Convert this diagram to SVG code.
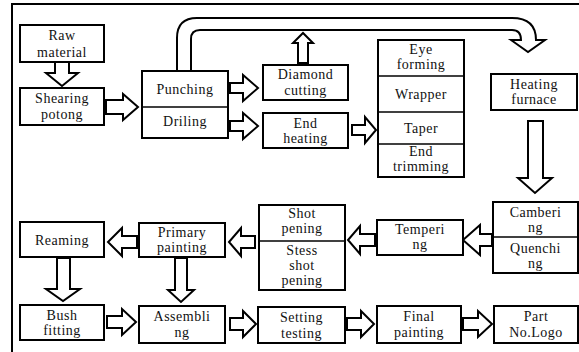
<svg xmlns="http://www.w3.org/2000/svg" width="579" height="352" viewBox="0 0 579 352" font-family="Liberation Serif, DejaVu Serif, serif">
<style>
.box{fill:#fff;stroke:#000;stroke-width:2}
.div{stroke:#000;stroke-width:1.6}
.arr{fill:#fff;stroke:#000;stroke-width:2;stroke-linejoin:miter}
text{font-size:14px;letter-spacing:0.5px;fill:#111;text-anchor:middle}
</style>
<rect width="579" height="352" fill="#fff"/>
<path d="M12,352 L12,4 L579,4" fill="none" stroke="#000" stroke-width="2"/>

<g id="connectors">
  <path class="arr" d="M177,71 L177,38 Q177,18 197,18 L512,18 Q536,18 536,40 L545,40 L528,52 L511,40 L521,40 Q521,30 512,30 L200,30 Q191,30 191,39 L191,71"/>
  <path class="arr" d="M55,62 L69,62 L69,73 L78,73 L62,86 L46,73 L55,73 Z"/>
  <path class="arr" d="M106,100 L123,100 L123,94 L138,107 L123,120 L123,114 L106,114 Z"/>
  <path class="arr" d="M230,83 L243,83 L243,75 L258,88 L243,101 L243,93 L230,93 Z"/>
  <path class="arr" d="M230,121 L243,121 L243,113 L258,126 L243,139 L243,131 L230,131 Z"/>
  <path class="arr" d="M298,63 L298,43 L293,43 L303,33 L313,43 L308,43 L308,63 Z"/>
  <path class="arr" d="M352,125 L365,125 L365,117 L376,130 L365,143 L365,135 L352,135 Z"/>
  <path class="arr" d="M528,121 L543,121 L543,178 L552,178 L535,193 L518,178 L528,178 Z"/>
  <path class="arr" d="M492,234 L480,234 L480,225 L463,240 L480,255 L480,246 L492,246 Z"/>
  <path class="arr" d="M375,234 L360,234 L360,226 L348,240 L360,254 L360,246 L375,246 Z"/>
  <path class="arr" d="M255,236 L241,236 L241,228 L229,242 L241,256 L241,248 L255,248 Z"/>
  <path class="arr" d="M137,236 L122,236 L122,228 L108,242 L122,256 L122,248 L137,248 Z"/>
  <path class="arr" d="M57,258 L70,258 L70,289 L80,289 L63,301 L46,289 L57,289 Z"/>
  <path class="arr" d="M175,258 L187,258 L187,290 L194,290 L181,302 L168,290 L175,290 Z"/>
  <path class="arr" d="M107,316 L122,316 L122,309 L136,322 L122,335 L122,328 L107,328 Z"/>
  <path class="arr" d="M230,318 L243,318 L243,311 L256,324 L243,337 L243,330 L230,330 Z"/>
  <path class="arr" d="M347,318 L361,318 L361,311 L374,324 L361,337 L361,330 L347,330 Z"/>
  <path class="arr" d="M463,318 L478,318 L478,311 L492,324 L478,337 L478,330 L463,330 Z"/>
</g>

<g id="raw-material">
  <rect class="box" x="20" y="25" width="84" height="37"/>
  <text x="62" y="40">Raw</text><text x="62" y="57">material</text>
</g>
<g id="shearing-potong">
  <rect class="box" x="20" y="88" width="84" height="37"/>
  <text x="62" y="103">Shearing</text><text x="62" y="119">potong</text>
</g>
<g id="punching-driling">
  <rect class="box" x="142" y="71" width="86" height="67"/>
  <line class="div" x1="142" y1="107" x2="228" y2="107"/>
  <text x="185" y="94">Punching</text>
  <text x="185" y="126">Driling</text>
</g>
<g id="diamond-cutting">
  <rect class="box" x="263" y="65" width="85" height="35"/>
  <text x="305.5" y="79">Diamond</text><text x="305.5" y="95">cutting</text>
</g>
<g id="end-heating">
  <rect class="box" x="263" y="113" width="85" height="35"/>
  <text x="305.5" y="128">End</text><text x="305.5" y="143">heating</text>
</g>
<g id="forming-stack">
  <rect class="box" x="378" y="40" width="86" height="137"/>
  <line class="div" x1="378" y1="76" x2="464" y2="76"/>
  <line class="div" x1="378" y1="112" x2="464" y2="112"/>
  <line class="div" x1="378" y1="144" x2="464" y2="144"/>
  <text x="421" y="54">Eye</text><text x="421" y="69">forming</text>
  <text x="421" y="99">Wrapper</text>
  <text x="421" y="133">Taper</text>
  <text x="421" y="156">End</text><text x="421" y="171">trimming</text>
</g>
<g id="heating-furnace">
  <rect class="box" x="491" y="74" width="86" height="36"/>
  <text x="534" y="89">Heating</text><text x="534" y="104">furnace</text>
</g>
<g id="cambering-quenching">
  <rect class="box" x="493" y="202" width="85" height="71"/>
  <line class="div" x1="493" y1="237" x2="578" y2="237"/>
  <text x="535.5" y="217">Camberi</text><text x="535.5" y="232">ng</text>
  <text x="535.5" y="253">Quenchi</text><text x="535.5" y="268">ng</text>
</g>
<g id="tempering">
  <rect class="box" x="377" y="220" width="86" height="35"/>
  <text x="420" y="234">Temperi</text><text x="420" y="249">ng</text>
</g>
<g id="shot-pening">
  <rect class="box" x="259" y="205" width="86" height="85"/>
  <line class="div" x1="259" y1="241" x2="345" y2="241"/>
  <text x="302" y="218">Shot</text><text x="302" y="233">pening</text>
  <text x="302" y="255">Stess</text><text x="302" y="270">shot</text><text x="302" y="285">pening</text>
</g>
<g id="primary-painting">
  <rect class="box" x="139" y="223" width="86" height="34"/>
  <text x="182" y="237">Primary</text><text x="182" y="252">painting</text>
</g>
<g id="reaming">
  <rect class="box" x="20" y="222" width="84" height="35"/>
  <text x="62" y="245">Reaming</text>
</g>
<g id="bush-fitting">
  <rect class="box" x="20" y="305" width="84" height="35"/>
  <text x="62" y="320">Bush</text><text x="62" y="335">fitting</text>
</g>
<g id="assembling">
  <rect class="box" x="139" y="306" width="86" height="37"/>
  <text x="182" y="321">Assembli</text><text x="182" y="337">ng</text>
</g>
<g id="setting-testing">
  <rect class="box" x="258" y="307" width="87" height="36"/>
  <text x="301.5" y="322">Setting</text><text x="301.5" y="338">testing</text>
</g>
<g id="final-painting">
  <rect class="box" x="377" y="306" width="84" height="37"/>
  <text x="419" y="321">Final</text><text x="419" y="337">painting</text>
</g>
<g id="part-no-logo">
  <rect class="box" x="494" y="306" width="84" height="37"/>
  <text x="536" y="321">Part</text><text x="536" y="337">No.Logo</text>
</g>
</svg>
